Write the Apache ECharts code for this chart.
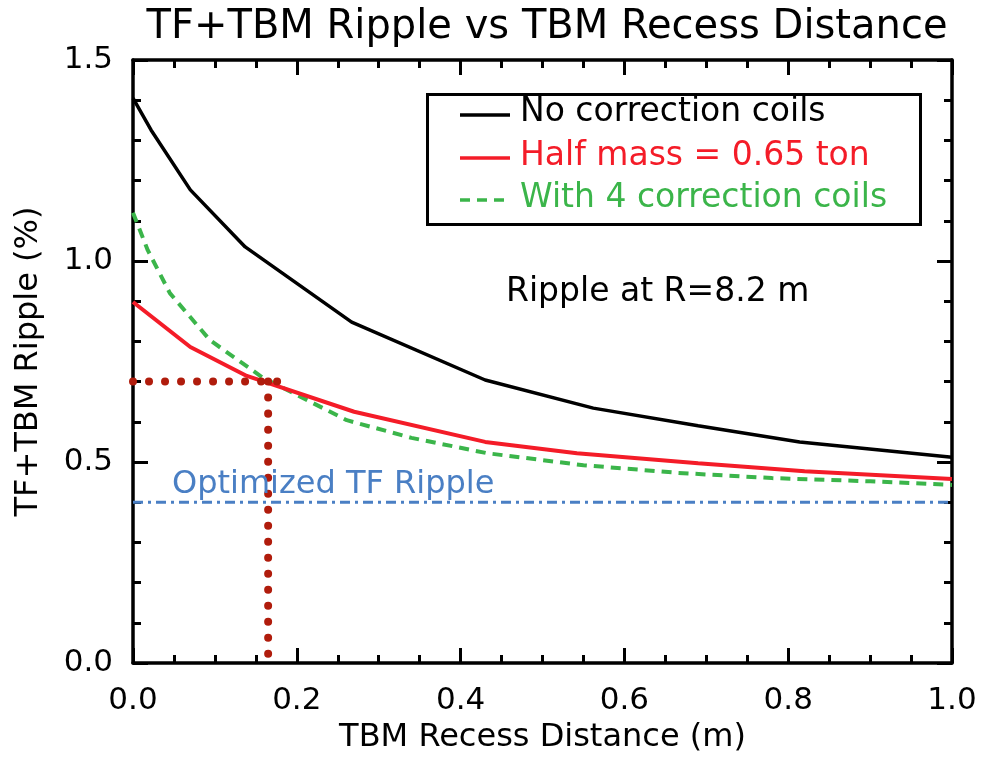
<!DOCTYPE html>
<html>
<head>
<meta charset="utf-8">
<script src="https://cdn.jsdelivr.net/npm/echarts@6/dist/echarts.min.js"></script>
<style>html,body{margin:0;padding:0;background:#fff}#c{width:981px;height:760px}</style>
</head>
<body>
<div id="c"></div>
<script>
// ---- data ----
var xNoCorr = [0, 0.022, 0.07, 0.137, 0.267, 0.43, 0.562, 0.69, 0.814, 1.0];
var yNoCorr = [1.405, 1.326, 1.177, 1.035, 0.848, 0.704, 0.634, 0.59, 0.55, 0.512];
var xHalf = [0, 0.07, 0.139, 0.27, 0.43, 0.542, 0.69, 0.82, 1.0];
var yHalf = [0.898, 0.786, 0.714, 0.625, 0.55, 0.522, 0.497, 0.477, 0.458];
var xFour = [0, 0.018, 0.045, 0.094, 0.159, 0.2, 0.261, 0.34, 0.432, 0.55, 0.665, 0.78, 0.9, 1.0];
var yFour = [1.12, 1.027, 0.92, 0.803, 0.709, 0.667, 0.604, 0.56, 0.522, 0.492, 0.473, 0.46, 0.452, 0.443];
var xOptimized = [0, 1];
var yOptimized = [0.4, 0.4];
var xGuideH = [0, 0.185];
var yGuideH = [0.7, 0.7];
var xGuideV = [0.165, 0.165];
var yGuideV = [0.7, 0.0];
var seriesNames = ['No correction coils', 'Half mass = 0.65 ton', 'With 4 correction coils'];
var xTicks = ['0.0', '0.2', '0.4', '0.6', '0.8', '1.0'];
var yTicks = ['0.0', '0.5', '1.0', '1.5'];

function pairs(xs, ys) { return xs.map(function (x, i) { return [x, ys[i]]; }); }

var FONT = 'DejaVu Sans';
var chart = echarts.init(document.getElementById('c'), null, { renderer: 'canvas' });

var axisCommon = {
  axisLine: { show: true, onZero: false, lineStyle: { color: '#000', width: 3.5 } },
  axisTick: { show: true, inside: true, length: 15, lineStyle: { color: '#000', width: 3 } },
  minorTick: { show: true, length: 8, lineStyle: { color: '#000', width: 3 } },
  splitLine: { show: false },
  minorSplitLine: { show: false }
};

function xLabel(v) { var s = v.toFixed(1); return xTicks.indexOf(s) >= 0 ? s : ''; }
function yLabel(v) { var s = v.toFixed(1); return yTicks.indexOf(s) >= 0 ? s : ''; }

var option = {
  backgroundColor: '#fff',
  animation: false,
  title: {
    text: 'TF+TBM Ripple vs TBM Recess Distance',
    left: 542, top: 3, textAlign: 'center',
    textStyle: { fontFamily: FONT, fontSize: 40, fontWeight: 'normal', color: '#000' }
  },
  grid: { left: 133, right: 29, top: 60, bottom: 97, containLabel: false },
  xAxis: [
    Object.assign({}, axisCommon, {
      type: 'value', min: 0, max: 1, interval: 0.2, position: 'bottom',
      minorTick: Object.assign({}, axisCommon.minorTick, { splitNumber: 4 }),
      name: 'TBM Recess Distance (m)', nameLocation: 'middle', nameGap: 59,
      nameTextStyle: { fontFamily: FONT, fontSize: 32, color: '#000' },
      axisLabel: { margin: 22, fontFamily: FONT, fontSize: 31, color: '#000', formatter: xLabel }
    }),
    Object.assign({}, axisCommon, {
      type: 'value', min: 0, max: 1, interval: 0.2, position: 'top',
      minorTick: Object.assign({}, axisCommon.minorTick, { splitNumber: 4 }),
      axisLabel: { show: false }
    })
  ],
  yAxis: [
    Object.assign({}, axisCommon, {
      type: 'value', min: 0, max: 1.5, interval: 0.5, position: 'left',
      minorTick: Object.assign({}, axisCommon.minorTick, { splitNumber: 5 }),
      name: 'TF+TBM Ripple (%)', nameLocation: 'middle', nameGap: 88, nameRotate: 90,
      nameTextStyle: { fontFamily: FONT, fontSize: 32, color: '#000' },
      axisLabel: { margin: 20, fontFamily: FONT, fontSize: 31, color: '#000', formatter: yLabel }
    }),
    Object.assign({}, axisCommon, {
      type: 'value', min: 0, max: 1.5, interval: 0.5, position: 'right',
      minorTick: Object.assign({}, axisCommon.minorTick, { splitNumber: 5 }),
      axisLabel: { show: false }
    })
  ],
  series: [
    {
      name: seriesNames[0], type: 'line', symbol: 'none', smooth: false,
      data: pairs(xNoCorr, yNoCorr), lineStyle: { color: '#000', width: 3.5 }, z: 5
    },
    {
      name: seriesNames[1], type: 'line', symbol: 'none',
      data: pairs(xHalf, yHalf), lineStyle: { color: '#f41c28', width: 4 }, z: 5
    },
    {
      name: seriesNames[2], type: 'line', symbol: 'none',
      data: pairs(xFour, yFour), lineStyle: { color: '#3bb54a', width: 4, type: [10, 7] }, z: 4
    },
    {
      name: 'Optimized TF Ripple', type: 'line', symbol: 'none',
      data: pairs(xOptimized, yOptimized),
      lineStyle: { color: '#4a7fc4', width: 3, type: [10, 5, 3, 5] }, z: 3
    },
    {
      name: 'guideH', type: 'line', symbol: 'none',
      data: pairs(xGuideH, yGuideH),
      lineStyle: { color: '#b01c0c', width: 8, type: [0.01, 16], cap: 'round' }, z: 6
    },
    {
      name: 'guideV', type: 'line', symbol: 'none',
      data: pairs(xGuideV, yGuideV),
      lineStyle: { color: '#b01c0c', width: 8, type: [0.01, 16], cap: 'round' }, z: 6
    }
  ],
  graphic: [
    { type: 'rect', left: 426, top: 93, shape: { width: 493, height: 130 },
      style: { fill: '#fff', stroke: '#000', lineWidth: 3 }, z: 10 },
    { type: 'line', shape: { x1: 460, y1: 115, x2: 510, y2: 115 }, style: { stroke: '#000', lineWidth: 3.5 }, z: 11 },
    { type: 'line', shape: { x1: 460, y1: 158, x2: 510, y2: 158 }, style: { stroke: '#f41c28', lineWidth: 3.5 }, z: 11 },
    { type: 'line', shape: { x1: 460, y1: 200, x2: 510, y2: 200 }, style: { stroke: '#3bb54a', lineWidth: 3.5, lineDash: [10, 7] }, z: 11 },
    { type: 'text', left: 520, top: 96, z: 11,
      style: { text: seriesNames[0], fill: '#000', font: '33px "DejaVu Sans"' } },
    { type: 'text', left: 520, top: 140, z: 11,
      style: { text: seriesNames[1], fill: '#f41c28', font: '33px "DejaVu Sans"' } },
    { type: 'text', left: 520, top: 182, z: 11,
      style: { text: seriesNames[2], fill: '#3bb54a', font: '33px "DejaVu Sans"' } },
    { type: 'text', left: 506, top: 276, z: 11,
      style: { text: 'Ripple at R=8.2 m', fill: '#000', font: '33px "DejaVu Sans"' } },
    { type: 'text', left: 172, top: 469, z: 11,
      style: { text: 'Optimized TF Ripple', fill: '#4a7fc4', font: '32px "DejaVu Sans"' } }
  ]
};
chart.setOption(option);
</script>
</body>
</html>
